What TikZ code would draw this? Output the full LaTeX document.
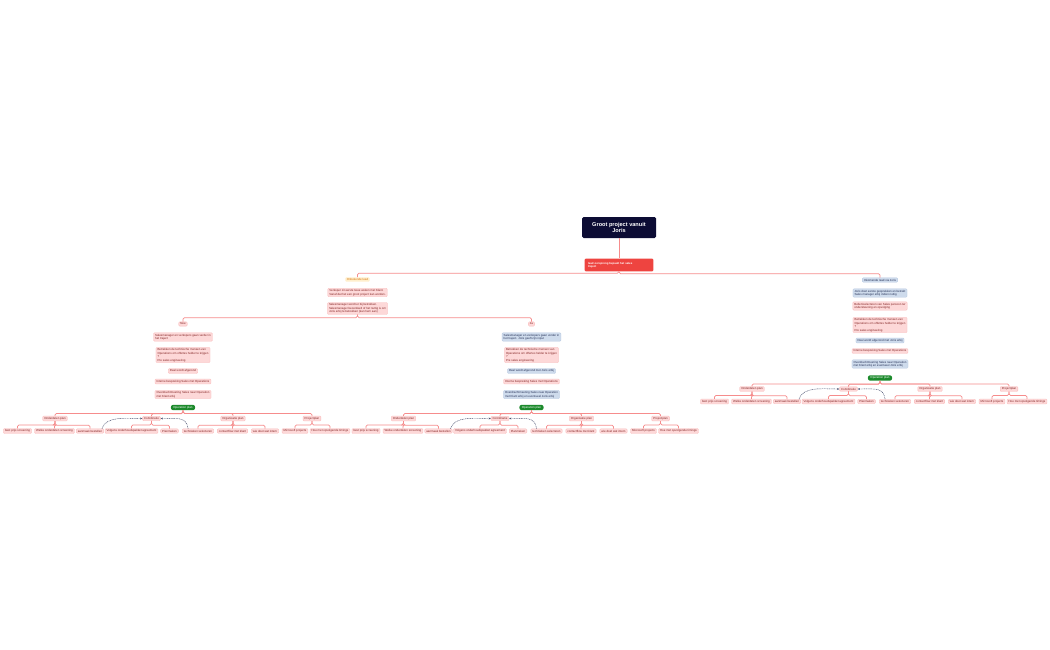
\documentclass[tikz,border=0pt]{standalone}
\usepackage{fontspec}
\setmainfont{Liberation Sans}
\usetikzlibrary{arrows.meta}

\definecolor{rootnavy}{RGB}{12,12,52}
\definecolor{leadred}{RGB}{238,68,64}
\definecolor{linkred}{RGB}{246,140,140}
\definecolor{pinkfill}{RGB}{253,216,216}
\definecolor{pinkline}{RGB}{250,185,185}
\definecolor{pinktext}{RGB}{130,35,35}
\definecolor{bluefill}{RGB}{206,219,236}
\definecolor{blueline}{RGB}{180,198,224}
\definecolor{bluetext}{RGB}{36,48,86}
\definecolor{creamfill}{RGB}{255,239,204}
\definecolor{orangetext}{RGB}{214,120,20}
\definecolor{opgreen}{RGB}{28,138,44}
\definecolor{flowgrey}{RGB}{70,78,110}

\newcommand{\presales}{Betrekken de technische mensen van\\Operations om offertes helder te krijgen\\?\\Pre sales engineering}

\tikzset{
  box/.style={rounded corners=1pt, inner xsep=1.6pt, inner ysep=1.1pt, align=left, line width=0.3pt, font=\fontsize{2.9}{3.5}\selectfont},
  pinkbox/.style={box, fill=pinkfill, draw=pinkline, text=pinktext},
  bluebox/.style={box, fill=bluefill, draw=blueline, text=bluetext},
  creambox/.style={box, fill=creamfill, text=orangetext},
  greenbox/.style={box, fill=opgreen, text=white, rounded corners=2pt, inner xsep=2.5pt, inner ysep=1.3pt},
  link/.style={draw=linkred, line width=0.7pt, rounded corners=1.5pt},
  flow/.style={draw=flowgrey, line width=0.45pt, dash pattern=on 1pt off 0.7pt, -{Stealth[length=2.2pt,width=1.8pt]}},
}

\begin{document}
\begin{tikzpicture}[x=1pt, y=-1pt]
			%%%%% START %%%%%
			
			\fill[white] (0,0) rectangle (1050,650);
			\useasboundingbox (0,0) rectangle (1050,650);
			
			\node[fill=rootnavy, text=white, rounded corners=1.5pt, minimum width=74pt, minimum height=21pt, align=center, font=\fontsize{5.6}{6.6}\selectfont\bfseries] (root) at (619,227.5) {Groot project vanuit\\Joris};
			\node[fill=leadred, text=white, rounded corners=1pt, text width=62pt, minimum height=12pt, align=left, font=\fontsize{2.8}{3.4}\selectfont\bfseries] (lead) at (619,265) {lead oorsprong bepaalt het sales\\traject};
			\draw[link] (root.south) -- (lead.north);
			
			% onbekende lead
			\node[creambox] (onb) at (357.5,279.5) {Onbekende lead};
			\node[pinkbox] (onb1) at (357.5,292.5) {Verkoper zit eerste twee weken met Klant.\\Vanaf dat het een groot project kan worden.};
			\node[pinkbox] (onb2) at (357.5,308.5) {Salesmanager wordt er bij betrokken.\\Salesmanager beoordeelt of het nuttig is om\\Joris erbij te betrekken (kan hem aan)};
			
			% inkomende lead
			\node[bluebox] (ink) at (880,280) {Inkomende lead via Joris};
			\node[bluebox] (ink1) at (880,293) {Joris doet eerste gesprekken en betrekt\\Sales manager erbij indien nuttig};
			\node[pinkbox] (ink2) at (880,306) {Bellen/selecteren van Sales persoon ter\\ondersteuning en opvolging};
			\node[pinkbox] (ink3) at (880,325) {\presales};
			\node[bluebox] (ink4) at (880,340.5) {Deal wordt afgerond met Joris erbij};
			\node[pinkbox] (ink5) at (880,351) {Interne bespreking Sales met Operations};
			\node[bluebox] (ink6) at (880,364) {Overdrachtmeeting Sales naar Operation\\met Klant erbij en eventueel Joris erbij};
			
			\draw[link] (lead.south) |- ([yshift=4pt]onb.north) -- (onb.north);
			\draw[link] (lead.south) |- ([yshift=4pt]ink.north) -- (ink.north);
			
			% nee
			\node[pinkbox] (nee) at (183,324) {Nee};
			\node[pinkbox] (nee1) at (183,337) {Salesmanager en verkopers gaan verder in\\het traject};
			\node[pinkbox] (nee2) at (183,355) {\presales};
			\node[pinkbox] (nee3) at (183,371) {Deal wordt afgerond};
			\node[pinkbox] (nee4) at (183,381.5) {Interne bespreking Sales met Operations};
			\node[pinkbox] (nee5) at (183,394.5) {Overdrachtmeeting Sales naar Operation\\met Klant erbij};
			
			% ja
			\node[pinkbox] (ja) at (531.5,324) {Ja};
			\node[bluebox] (ja1) at (531.5,337) {Salesmanager en verkopers gaan verder in\\het traject. Joris geeft zijn input};
			\node[pinkbox] (ja2) at (531.5,355) {\presales};
			\node[bluebox] (ja3) at (531.5,371) {Deal wordt afgerond met Joris erbij};
			\node[pinkbox] (ja4) at (531.5,381.5) {Interne bespreking Sales met Operations};
			\node[bluebox] (ja5) at (531.5,394.5) {Overdrachtmeeting Sales naar Operation\\met Klant erbij en eventueel Joris erbij};
			
			\draw[link] (onb2.south) |- ([yshift=4pt]nee.north) -- (nee.north);
			\draw[link] (onb2.south) |- ([yshift=4pt]ja.north) -- (ja.north);
			
			% operation plan, three times
			\foreach \p/\dx/\dy in {nee/0/0, ja/348.5/0, ink/697/-29.5}{
				\begin{scope}[shift={(\dx,\dy)}, name prefix=\p-]
					\node[greenbox] (op) at (183,407.5) {Operation plan};
					
					\node[pinkbox] (ond) at (55,418.5) {Onderdelen plan};
					\node[pinkbox] (coo) at (151.5,418.5) {Coördinatie};
					\node[pinkbox] (org) at (233,418.5) {Organisatie plan};
					\node[pinkbox] (prj) at (312,418.5) {Projectplan};
					
					\node[pinkbox] (c1) at (17.5,431) {best prijs screening};
					\node[pinkbox] (c2) at (54.5,431) {Welke onderdelen screening};
					\node[pinkbox] (c3) at (90,431) {aanmaak bestellen};
					\node[pinkbox] (c4) at (131.5,431) {Volgens onderhoudspakket agreement};
					\node[pinkbox] (c5) at (169.5,431) {Planmaken};
					\node[pinkbox] (c6) at (198,431) {technieken selecteren};
					\node[pinkbox] (c7) at (232.5,431) {contactflow met klant};
					\node[pinkbox] (c8) at (265,431) {wie doet wat intern};
					\node[pinkbox] (c9) at (295,431) {Microsoft projects};
					\node[pinkbox] (c10) at (330,431) {Hoe met opvolgende timings};
					
					\foreach \k in {ond,coo,org,prj}
						\draw[link] (op.south) |- ([yshift=2.5pt]\k.north) -- (\k.north);
					\foreach \k in {c1,c2,c3}
						\draw[link] (ond.south) |- ([yshift=3.5pt]\k.north) -- (\k.north);
					\foreach \k in {c4,c5}
						\draw[link] (coo.south) |- ([yshift=3.5pt]\k.north) -- (\k.north);
					\foreach \k in {c6,c7,c8}
						\draw[link] (org.south) |- ([yshift=3.5pt]\k.north) -- (\k.north);
					\foreach \k in {c9,c10}
						\draw[link] (prj.south) |- ([yshift=3.5pt]\k.north) -- (\k.north);
					
					\draw[flow] ([xshift=-2pt]c3.north east) .. controls +(4,-13) and +(-16,0) .. (coo.west);
					\draw[flow] ([xshift=6pt]c6.north west) .. controls +(-2,-12) and +(18,0) .. (coo.east);
				\end{scope}
			}
			
			%%%%% END %%%%%
\end{tikzpicture}
\end{document}
